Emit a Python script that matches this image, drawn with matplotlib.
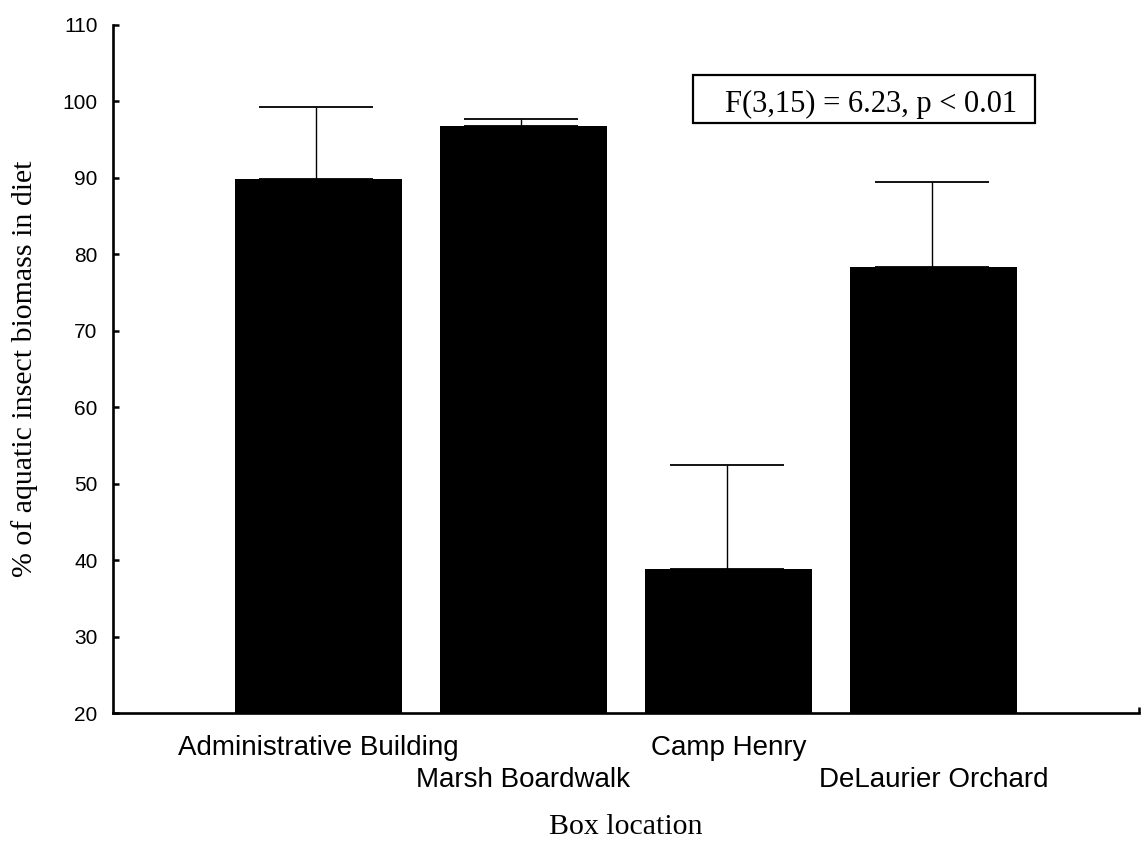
import numpy as np
import matplotlib
matplotlib.use("Agg")
import matplotlib.pyplot as plt
from matplotlib.patches import Rectangle

# data
locations = ['Administrative Building', 'Marsh Boardwalk', 'Camp Henry', 'DeLaurier Orchard']
mean_pct = [89.8, 96.8, 38.8, 78.3]
se_pct = [9.45, 0.9, 13.6, 11.1]
y_ticks = [20, 30, 40, 50, 60, 70, 80, 90, 100, 110]
stats_text = 'F(3,15) = 6.23, p < 0.01'


def plot_bars():
    fig = plt.figure(figsize=(11.44, 8.44), dpi=100)
    ax = fig.add_axes([0.0988, 0.1552, 0.8968, 0.8152])

    x = np.arange(1, len(locations) + 1)
    ax.bar(x, np.array(mean_pct) - 20, bottom=20, width=0.815, color='black')

    # only the upper half of the error bar shows
    lower = np.zeros(len(se_pct))
    ax.errorbar(x - 0.01, mean_pct, yerr=[lower, se_pct], fmt='none', ecolor='black',
                elinewidth=1.0, capsize=41, capthick=1.3)

    ax.set_xlim(0, 5)
    ax.set_ylim(20, 110)
    ax.set_yticks(y_ticks)
    ax.tick_params(axis='y', direction='in', length=4, width=1.8, pad=11,
                   labelsize=15)
    for lab in ax.get_yticklabels():
        lab.set_fontfamily('Liberation Sans')

    # staggered category labels: odd ones on the major ticks, even ones on minor ticks
    ax.set_xticks([1, 3, 5], labels=[locations[0], locations[2], ''])
    ax.set_xticks([2, 4], labels=[locations[1], locations[3]], minor=True)
    for lab in ax.get_xticklabels() + ax.get_xticklabels(minor=True):
        lab.set_fontfamily('Liberation Sans')
        lab.set_fontsize(20)
    ax.tick_params(axis='x', which='major', direction='in', length=4, width=1.8, pad=16)
    ax.tick_params(axis='x', which='minor', length=0, pad=39)
    for tick in ax.xaxis.get_major_ticks()[:2]:
        tick.tick1line.set_visible(False)

    for side in ['top', 'right']:
        ax.spines[side].set_visible(False)
    for side in ['left', 'bottom']:
        ax.spines[side].set_linewidth(1.9)

    ax.set_ylabel('% of aquatic insect biomass in diet', fontsize=21.5,
                  family='Liberation Serif')
    ax.yaxis.set_label_coords(-0.073, 0.5)
    ax.set_xlabel('Box location', fontsize=21.5, family='Liberation Serif')
    ax.xaxis.set_label_coords(0.5, -0.147)

    # stats box
    fig.patches.append(Rectangle((0.6058, 0.8543), 0.2989, 0.0568, transform=fig.transFigure,
                                 fill=False, edgecolor='black', linewidth=1.6))
    fig.text(0.6337, 0.8673, stats_text, fontsize=22, family='Liberation Serif',
             ha='left', va='baseline')

    fig.savefig('out.png', dpi=100)
    plt.close(fig)


if __name__ == "__main__":
    plot_bars()
